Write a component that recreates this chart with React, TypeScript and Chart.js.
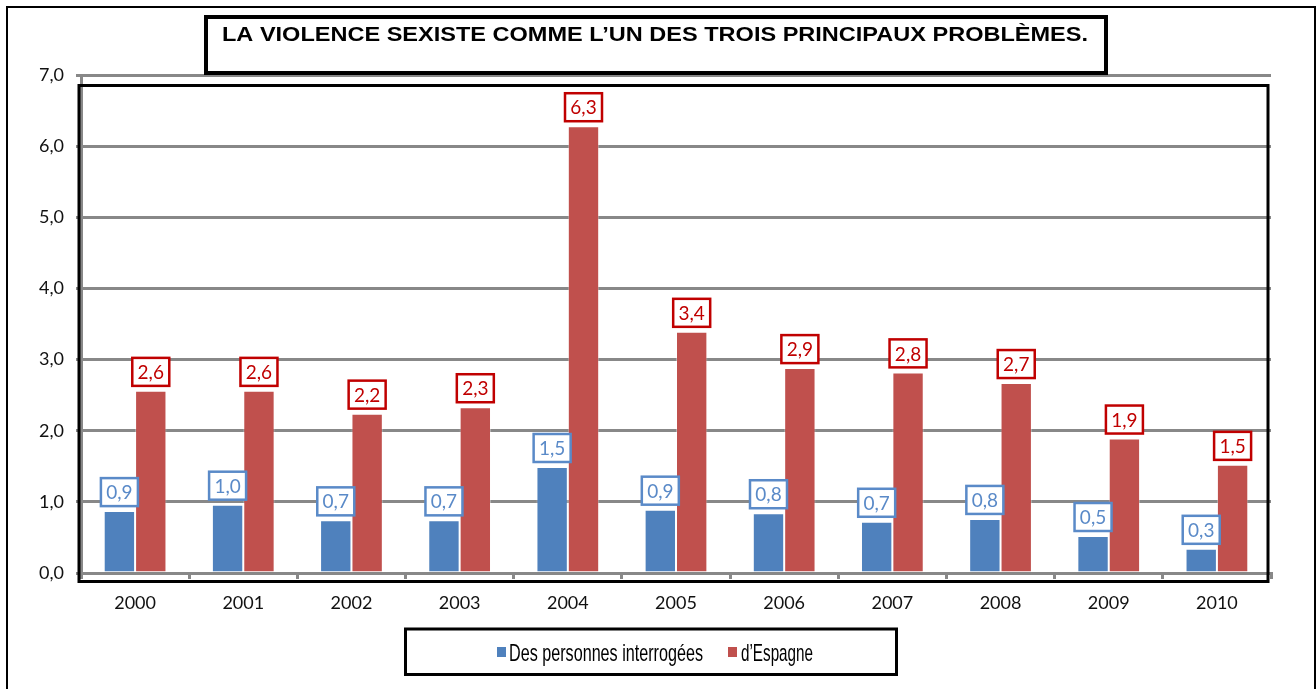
import React, { useEffect, useRef } from "react";
import { Chart, registerables } from "chart.js";

Chart.register(...registerables);

const TITLE = "LA VIOLENCE SEXISTE COMME L’UN DES TROIS PRINCIPAUX PROBLÈMES.";
const years = ["2000", "2001", "2002", "2003", "2004", "2005", "2006", "2007", "2008", "2009", "2010"];
const seriesNames = ["Des personnes interrogées", "d’Espagne"];
const respondents = [0.87, 0.96, 0.74, 0.74, 1.49, 0.89, 0.84, 0.72, 0.76, 0.52, 0.34];
const spain = [2.56, 2.56, 2.24, 2.33, 6.28, 3.39, 2.88, 2.82, 2.67, 1.89, 1.52];
const yMin = 0;
const yMax = 7;
const yStep = 1;

const BLUE = "#4F81BD";
const RED = "#C0504D";
const LABEL_BLUE = "#5A8AC8";
const LABEL_RED = "#C00000";
const FONT = "Lato, 'Open Sans', sans-serif";

const fmt = (v: number) => (Math.round(v * 10) / 10).toFixed(1).replace(".", ",");

function drawFit(ctx: CanvasRenderingContext2D, text: string, x: number, baseline: number, width: number, font: string, color: string) {
  ctx.save();
  ctx.font = font;
  ctx.fillStyle = color;
  ctx.textAlign = "left";
  ctx.textBaseline = "alphabetic";
  const w = ctx.measureText(text).width;
  ctx.translate(x, baseline);
  ctx.scale(width / w, 1);
  ctx.fillText(text, 0, 0);
  ctx.restore();
}

const decorPlugin = {
  id: "decor",
  beforeDraw(chart: any) {
    const ctx = chart.ctx as CanvasRenderingContext2D;
    ctx.save();
    ctx.fillStyle = "#fff";
    ctx.fillRect(0, 0, chart.width, chart.height);
    ctx.strokeStyle = "#000";
    ctx.lineWidth = 2;
    ctx.strokeRect(7, 7, 1308, 740);
    ctx.restore();
  },
  beforeDatasetsDraw(chart: any) {
    const ctx = chart.ctx as CanvasRenderingContext2D;
    const ca = chart.chartArea;
    ctx.save();
    ctx.strokeStyle = "#000";
    ctx.lineWidth = 3;
    ctx.strokeRect(ca.left - 2, ca.top + 10.5, ca.right - 3 - (ca.left - 2), ca.bottom + 8.5 - (ca.top + 10.5));
    ctx.restore();
  },
  afterDatasetsDraw(chart: any) {
    const ctx = chart.ctx as CanvasRenderingContext2D;
    const styles = [
      { border: LABEL_BLUE, text: LABEL_BLUE, lw: 2.5 },
      { border: LABEL_RED, text: LABEL_RED, lw: 2.5 },
    ];
    chart.data.datasets.forEach((ds: any, di: number) => {
      const meta = chart.getDatasetMeta(di);
      meta.data.forEach((el: any, i: number) => {
        const txt = fmt(ds.data[i]);
        const w = 37;
        const h = 28;
        const bottom = el.y - 5;
        const top = bottom - h;
        const left = el.x - w / 2;
        ctx.save();
        ctx.fillStyle = "#fff";
        ctx.fillRect(left, top, w, h);
        ctx.strokeStyle = styles[di].border;
        ctx.lineWidth = styles[di].lw;
        ctx.strokeRect(left, top, w, h);
        ctx.fillStyle = styles[di].text;
        ctx.font = `19px ${FONT}`;
        ctx.textAlign = "center";
        ctx.textBaseline = "middle";
        ctx.fillText(txt, el.x, top + h / 2 + 1);
        ctx.restore();
      });
    });
  },
  afterDraw(chart: any) {
    const ctx = chart.ctx as CanvasRenderingContext2D;
    // Title box
    ctx.save();
    ctx.fillStyle = "#fff";
    ctx.fillRect(206, 17, 900, 56);
    ctx.strokeStyle = "#000";
    ctx.lineWidth = 4;
    ctx.strokeRect(206, 17, 900, 56);
    ctx.restore();
    drawFit(ctx, TITLE, 222, 41, 866, "bold 21px 'Liberation Sans', Arial, sans-serif", "#000");

    // Legend box
    ctx.save();
    ctx.fillStyle = "#fff";
    ctx.fillRect(405.5, 629, 491, 45.5);
    ctx.strokeStyle = "#000";
    ctx.lineWidth = 3;
    ctx.strokeRect(405.5, 629, 491, 45.5);
    ctx.fillStyle = BLUE;
    ctx.fillRect(497, 647, 9, 10);
    ctx.fillStyle = RED;
    ctx.fillRect(728, 647, 9, 10);
    ctx.restore();
    const lf = "24px 'Liberation Sans Narrow', 'Liberation Sans', Arial, sans-serif";
    drawFit(ctx, seriesNames[0], 509, 661, 194, lf, "#000");
    drawFit(ctx, seriesNames[1], 741, 661, 72, lf, "#000");
  },
};

export default function App() {
  const ref = useRef<HTMLCanvasElement | null>(null);
  useEffect(() => {
    if (!ref.current) return;
    const chart = new Chart(ref.current, {
      type: "bar",
      data: {
        labels: years,
        datasets: [
          { label: seriesNames[0], data: respondents, backgroundColor: BLUE, borderColor: "rgba(255,255,255,0.35)", borderWidth: 1, barPercentage: 1, categoryPercentage: 0.58 },
          { label: seriesNames[1], data: spain, backgroundColor: RED, borderColor: "rgba(255,255,255,0.35)", borderWidth: 1, barPercentage: 1, categoryPercentage: 0.58 },
        ],
      },
      options: {
        animation: false,
        responsive: true,
        maintainAspectRatio: false,
        layout: { padding: { left: 0, top: 75, right: 45, bottom: 0 } },
        plugins: {
          legend: { display: false },
          title: { display: false },
          tooltip: { enabled: false },
        },
        scales: {
          x: {
            offset: true,
            grid: { offset: true, drawOnChartArea: false, drawTicks: true, tickLength: 6, color: "#888", lineWidth: 3 },
            border: { color: "#888", width: 3 },
            ticks: { font: { family: FONT, size: 18 }, color: "#111", padding: 13, maxRotation: 0 },
            afterFit: (s: any) => { s.height = 116; },
          },
          y: {
            min: yMin,
            max: yMax,
            ticks: { stepSize: yStep, callback: (v: any) => fmt(Number(v)), font: { family: FONT, size: 18 }, color: "#111", padding: 12 },
            grid: { color: "#888", lineWidth: 3, tickLength: 5 },
            border: { color: "#888", width: 3 },
            afterFit: (s: any) => { s.width = 81; },
          },
        },
      },
      plugins: [decorPlugin],
    } as any);
    return () => chart.destroy();
  }, []);
  return (
    <div style={{ position: "absolute", left: 0, top: 0, width: 1316, height: 689 }}>
      <canvas ref={ref} />
    </div>
  );
}
